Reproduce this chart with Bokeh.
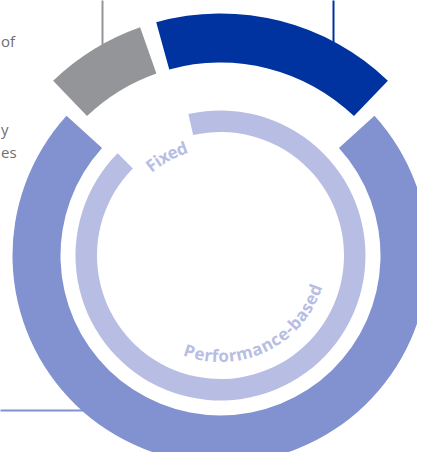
import math
from bokeh.plotting import figure
from bokeh.models import Range1d, ColumnDataSource
from bokeh.embed import file_html
from bokeh.resources import INLINE
from bokeh.core.properties import value

# ---------------- data ----------------
outer_names = ["Performance-based", "Other", "Fixed"]
outer_values = [76, 7, 17]          # light blue, grey, dark blue
outer_colors = ["#8291D0", "#939598", "#0033A0"]

inner_names = ["Fixed", "Performance-based"]
inner_values = [9, 91]
inner_color = "#B8BDE4"

side_texts = ["of", "y", "es"]

# ---------------- layout ----------------
W, H = 417, 452
cx, cy = 220, 205            # ring centre (data units = px, y up)
GAP = 4.0                    # degrees between outer segments

p = figure(width=W, height=H, x_range=Range1d(0, 417), y_range=Range1d(8, 460),
           output_backend="svg", toolbar_location=None, min_border=0)
p.axis.visible = False
p.grid.visible = False
p.outline_line_color = None
p.background_fill_color = "white"
p.border_fill_color = "white"

# outer segment angles
tot = sum(outer_values)
sweep = [v / tot * (360 - 3 * GAP) for v in outer_values]
s_light, s_grey, s_dark = sweep
a0 = 90 - (s_dark + s_grey + 3 * GAP) / 2
dark_start = a0 + GAP
dark_end = dark_start + s_dark
grey_start = dark_end + GAP
grey_end = grey_start + s_grey
light_start = grey_end + GAP
light_end = a0 + 360

R_TOP_IN, R_TOP_OUT = 193, 242
R_OUT_IN, R_OUT_OUT = 160, 208
R_INN_IN, R_INN_OUT = 123.5, 145

rad = math.radians

# decorative leader lines
def ring_y(x, r):
    return cy + math.sqrt(r * r - (x - cx) ** 2)

p.segment(x0=[102], y0=[ring_y(102, R_TOP_OUT) - 4], x1=[102], y1=[470],
          line_color="#939598", line_width=2)
p.segment(x0=[333], y0=[ring_y(333, R_TOP_OUT) - 4], x1=[333], y1=[470],
          line_color="#0033A0", line_width=2)
yb = 50
xb = cx - math.sqrt(R_OUT_OUT ** 2 - (yb - cy) ** 2)
p.segment(x0=[-5], y0=[yb], x1=[xb + 4], y1=[yb], line_color="#8291D0", line_width=2)

src = ColumnDataSource(dict(
    name=outer_names,
    start=[rad(light_start), rad(grey_start), rad(dark_start)],
    end=[rad(light_end), rad(grey_end), rad(dark_end)],
    rin=[R_OUT_IN, R_TOP_IN, R_TOP_IN],
    rout=[R_OUT_OUT, R_TOP_OUT, R_TOP_OUT],
    color=outer_colors,
))
p.annular_wedge(x=cx, y=cy, inner_radius="rin", outer_radius="rout",
                start_angle="start", end_angle="end",
                fill_color="color", line_color=None, source=src)

# inner ring: fixed share is left open
fix_sweep = inner_values[0] / sum(inner_values) * 360
gap_mid = 119
inn_start = gap_mid + fix_sweep / 2
inn_end = gap_mid - fix_sweep / 2 + 360
p.annular_wedge(x=cx, y=cy, inner_radius=R_INN_IN, outer_radius=R_INN_OUT,
                start_angle=rad(inn_start), end_angle=rad(inn_end),
                fill_color=inner_color, line_color=None)

# curved labels
WID = {"P": .64, "e": .57, "r": .42, "f": .37, "o": .6, "m": .93, "a": .58,
       "n": .64, "c": .5, "-": .32, "b": .62, "s": .48, "d": .62, "F": .56,
       "i": .3, "x": .56}

def curved(text, th0, th1, r, outward_top):
    w = [WID.get(ch, .55) for ch in text]
    pos = []
    acc = 0
    for wi in w:
        pos.append(acc + wi / 2)
        acc += wi
    span = pos[-1] - pos[0]
    xs, ys, angs = [], [], []
    for pp in pos:
        t = th0 + (th1 - th0) * (pp - pos[0]) / span
        tr = math.radians(t)
        xs.append(cx + r * math.cos(tr))
        ys.append(cy + r * math.sin(tr))
        angs.append(math.radians(t - 90 if outward_top else t + 90))
    p.text(x=xs, y=ys, text=list(text), angle=angs, text_align="center",
           text_baseline="middle", text_font=value("Open Sans"),
           text_font_style="bold", text_font_size="17px", text_color=inner_color)

curved(inner_names[0], 127.4, 110, 114, True)
curved(inner_names[1], -108, -20, 100, False)

# side text fragments
p.text(x=[0.5, 0.5, 0.5], y=[460 - 40, 460 - 128, 460 - 151], text=side_texts,
       text_align="left", text_baseline="alphabetic",
       text_font=value("Open Sans"), text_font_size="15px", text_color="#6D6E71")

open("out.html", "w").write(file_html(p, INLINE))
